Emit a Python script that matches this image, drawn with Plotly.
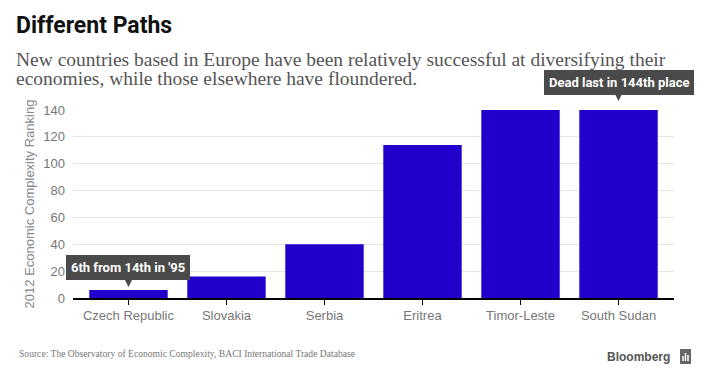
import plotly.graph_objects as go

countries = ["Czech Republic", "Slovakia", "Serbia", "Eritrea", "Timor-Leste", "South Sudan"]
rankings = [6, 16, 40, 114, 143, 144]
y_ticks = [0, 20, 40, 60, 80, 100, 120, 140]
y_max = 140

callouts = [
    ("Czech Republic", 6, "6th from 14th in '95"),
    ("South Sudan", 144, "Dead last in 144th place"),
]

title_text = "Different Paths"
subtitle_lines = [
    "New countries based in Europe have been relatively successful at diversifying their",
    "economies, while those elsewhere have floundered.",
]
source_text = "Source: The Observatory of Economic Complexity, BACI International Trade Database"

OFF = 8  # default page body margin
W, H = 720 - OFF, 391 - OFF
L, R, T, B = 73 - OFF, 46, 110 - OFF, 93
pw, ph = W - L - R, H - T - B


def px(x):
    return (x - OFF - L) / pw


def py(y):
    return (H - B - (y - OFF)) / ph


fig = go.Figure()
fig.add_trace(go.Bar(
    x=countries, y=rankings,
    marker=dict(color="#2200cc", line=dict(width=0)),
    width=0.8,
    hoverinfo="skip",
))

fig.update_layout(
    width=W, height=H,
    margin=dict(l=L, r=R, t=T, b=B),
    paper_bgcolor="white", plot_bgcolor="white",
    showlegend=False,
    font=dict(family="Liberation Sans, Arial, sans-serif"),
    xaxis=dict(
        range=[-0.566, 5.566],
        showgrid=False,
        showline=True, linecolor="#000", linewidth=1.5,
        ticks="outside", ticklen=5, tickcolor="#000", tickwidth=1,
        tickfont=dict(size=13, color="#777"),
        fixedrange=True,
    ),
    yaxis=dict(
        range=[0, y_max],
        tickvals=y_ticks,
        showgrid=True, gridcolor="#e5e5e5", gridwidth=1,
        zeroline=False,
        tickfont=dict(size=13, color="#777"),
        ticklabelstandoff=7,
        title=dict(text="2012 Economic Complexity Ranking",
                   font=dict(size=13, color="#888"), standoff=5),
        fixedrange=True,
    ),
)

annotations = [
    dict(text=f"<b>{title_text}</b>", xref="paper", yref="paper",
         x=px(14), y=py(26), xanchor="left", yanchor="middle", showarrow=False,
         font=dict(family="Roboto, Liberation Sans, sans-serif", size=23, color="#111")),
    dict(text=subtitle_lines[0], xref="paper", yref="paper",
         x=px(14), y=py(59), xanchor="left", yanchor="middle", showarrow=False,
         font=dict(family="Liberation Serif, serif", size=19.5, color="#555")),
    dict(text=subtitle_lines[1], xref="paper", yref="paper",
         x=px(14), y=py(79), xanchor="left", yanchor="middle", showarrow=False,
         font=dict(family="Liberation Serif, serif", size=19.5, color="#555")),
    dict(text=source_text, xref="paper", yref="paper",
         x=px(17), y=py(353), xanchor="left", yanchor="middle", showarrow=False,
         font=dict(family="Liberation Serif, serif", size=9.6, color="#777")),
    dict(text="<b>Bloomberg</b>", xref="paper", yref="paper",
         x=px(672), y=py(357), xanchor="right", yanchor="middle", showarrow=False,
         font=dict(family="Liberation Sans, Arial, sans-serif", size=12, color="#555")),
]
for cat, val, txt in callouts:
    annotations.append(dict(
        x=cat, y=min(val, y_max), xref="x", yref="y", text=f"<b>{txt}</b>",
        showarrow=True, ax=0, ay=-28 if val > y_max else -22,
        arrowhead=2, arrowsize=1.3, arrowwidth=2, arrowcolor="#4a4a4a",
        standoff=9 if val > y_max else 3,
        bgcolor="#4a4a4a", bordercolor="#4a4a4a", borderpad=5, borderwidth=0,
        font=dict(family="Roboto, Liberation Sans, sans-serif", size=13, color="white"),
    ))
fig.update_layout(annotations=annotations)

# Bloomberg logo mark
fig.add_shape(type="rect", xref="paper", yref="paper",
              x0=px(680), x1=px(691), y0=py(364), y1=py(349),
              fillcolor="#666", line=dict(width=0))
for bx, top in [(683, 356), (685.5, 353), (688, 355)]:
    fig.add_shape(type="line", xref="paper", yref="paper",
                  x0=px(bx), x1=px(bx), y0=py(361), y1=py(top),
                  line=dict(color="white", width=1.5))

fig.write_html("out.html")
